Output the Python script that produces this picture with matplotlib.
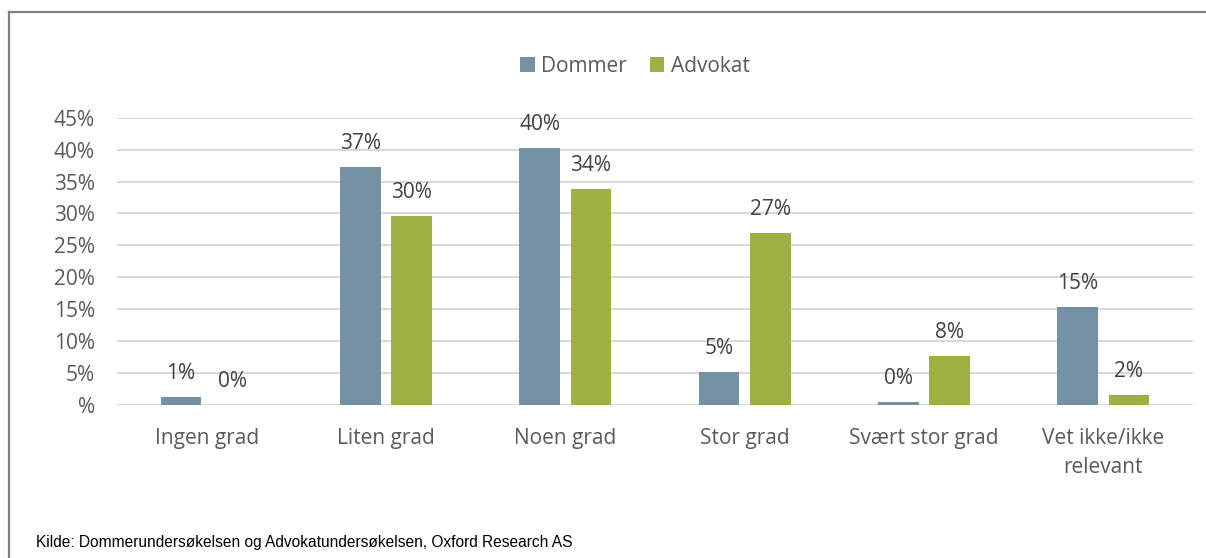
import matplotlib
matplotlib.use("Agg")
import matplotlib.pyplot as plt
import numpy as np

categories = ["Ingen grad", "Liten grad", "Noen grad", "Stor grad", "Svært stor grad", "Vet ikke/ikke\nrelevant"]
dommer = [1.3, 37.2, 40.3, 5.2, 0.4, 15.3]
advokat = [0.0, 29.6, 33.9, 27.0, 7.6, 1.6]
dommer_labels = ["1%", "37%", "40%", "5%", "0%", "15%"]
advokat_labels = ["0%", "30%", "34%", "27%", "8%", "2%"]
yticks = [0, 5, 10, 15, 20, 25, 30, 35, 40, 45]
ytick_labels = ["%", "5%", "10%", "15%", "20%", "25%", "30%", "35%", "40%", "45%"]
source = "Kilde: Dommerundersøkelsen og Advokatundersøkelsen, Oxford Research AS"

C_DOM = "#7591A4"
C_ADV = "#9FAF42"
FONT = ["Open Sans", "DejaVu Sans"]
FS = 15

W, H = 1206, 558
fig = plt.figure(figsize=(W / 100, H / 100), dpi=100)
ax = fig.add_axes([117 / W, (H - 405) / H, (1193 - 117) / W, (405 - 117.7) / H])

x = np.arange(len(categories))
bw = 0.226
off = 0.143
b1 = ax.bar(x - off, dommer, bw, color=C_DOM, label="Dommer", zorder=3)
b2 = ax.bar(x + off, advokat, bw, color=C_ADV, label="Advokat", zorder=3)

for bars, labs in ((b1, dommer_labels), (b2, advokat_labels)):
    for r, t in zip(bars, labs):
        ax.annotate(t, (r.get_x() + r.get_width() / 2, r.get_height()),
                    xytext=(0, 13), textcoords="offset points",
                    ha="center", va="baseline", fontsize=FS, color="#404040",
                    family=FONT)

ax.set_xlim(-0.5, len(categories) - 0.5)
ax.set_ylim(0, 45)
ax.set_yticks(yticks)
ax.set_yticklabels(ytick_labels, family=FONT, fontsize=FS, color="#595959")
ax.set_xticks(x)
ax.set_xticklabels(categories, family=FONT, fontsize=FS, color="#595959", linespacing=1.5)
ax.tick_params(axis="both", length=0)
ax.tick_params(axis="y", pad=16)
ax.tick_params(axis="x", pad=16.5)
ax.grid(axis="y", color="#D9D9D9", linewidth=1.5, zorder=0)
for s in ax.spines.values():
    s.set_visible(False)

leg = fig.legend(handles=[b1, b2], labels=["Dommer", "Advokat"], loc="center",
                 bbox_to_anchor=(635 / W, 1 - 66 / H), ncol=2, frameon=False,
                 prop={"family": FONT, "size": FS}, handlelength=0.7, handleheight=0.7,
                 handletextpad=0.3, columnspacing=1.1, labelcolor="#595959")

fig.text(36 / W, 1 - 543 / H, source, ha="left", va="center", fontsize=11.2,
         family=["Liberation Sans Narrow", "Liberation Sans", "DejaVu Sans"], color="#000000")

# frame lines (top and left)
fig.add_artist(plt.Line2D([8.5 / W, 8.5 / W], [0, 1 - 11.5 / H], transform=fig.transFigure,
                          color="#808080", linewidth=1.6))
fig.add_artist(plt.Line2D([8.5 / W, 1], [1 - 11.5 / H, 1 - 11.5 / H], transform=fig.transFigure,
                          color="#808080", linewidth=1.6))

fig.savefig("out.png", dpi=100)
